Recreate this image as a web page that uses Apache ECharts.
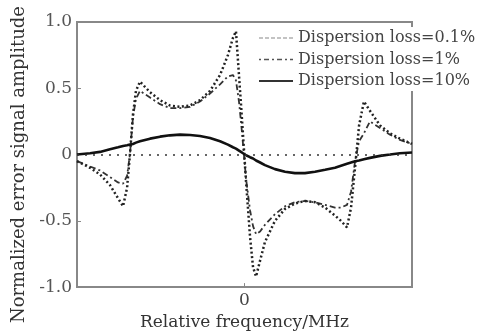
<!DOCTYPE html>
<html>
<head>
<meta charset="utf-8">
<script src="https://cdn.jsdelivr.net/npm/echarts@6/dist/echarts.min.js"></script>
<style>
html, body { margin: 0; padding: 0; background: #fff; }
#errorSignalChart { width: 487px; height: 336px; }
</style>
</head>
<body>
<div id="errorSignalChart"></div>
<script>
// relative frequency (arbitrary units, 0 at centre)
var freq = [-10, -9.22, -8.63, -8.03, -7.55, -7.25, -7.01, -6.84, -6.66, -6.48, -6.24, -5.64, -5.04, -4.45, -3.85, -3.25, -2.66, -2.06, -1.46, -0.99, -0.69, -0.51, -0.33, -0.21, -0.09, 0.09, 0.33, 0.51, 0.69, 0.93, 1.22, 1.82, 2.42, 3.01, 3.61, 4.21, 4.81, 5.40, 5.76, 6.12, 6.36, 6.60, 6.84, 7.13, 7.49, 8.09, 8.69, 9.28, 10];

var loss01 = [-0.05, -0.10, -0.15, -0.23, -0.33, -0.39, -0.25, 0.0, 0.30, 0.48, 0.55, 0.47, 0.41, 0.37, 0.36, 0.37, 0.41, 0.48, 0.60, 0.75, 0.88, 0.93, 0.60, 0.38, 0.15, -0.20, -0.62, -0.85, -0.92, -0.80, -0.66, -0.50, -0.41, -0.37, -0.35, -0.36, -0.40, -0.46, -0.50, -0.55, -0.40, -0.10, 0.22, 0.40, 0.33, 0.22, 0.16, 0.12, 0.08];

var loss1 = [-0.05, -0.09, -0.12, -0.17, -0.21, -0.22, -0.16, 0.0, 0.28, 0.42, 0.48, 0.43, 0.38, 0.35, 0.35, 0.36, 0.40, 0.46, 0.53, 0.59, 0.60, 0.56, 0.40, 0.25, 0.08, -0.18, -0.42, -0.54, -0.60, -0.58, -0.53, -0.45, -0.39, -0.36, -0.35, -0.36, -0.38, -0.40, -0.40, -0.38, -0.28, -0.05, 0.10, 0.16, 0.25, 0.20, 0.15, 0.11, 0.08];

var loss10 = [0.0, 0.01, 0.02, 0.04, 0.055, 0.065, 0.07, 0.075, 0.08, 0.09, 0.10, 0.12, 0.135, 0.145, 0.15, 0.148, 0.14, 0.125, 0.10, 0.075, 0.055, 0.045, 0.03, 0.02, 0.01, -0.005, -0.02, -0.03, -0.045, -0.06, -0.08, -0.11, -0.13, -0.14, -0.14, -0.13, -0.115, -0.10, -0.085, -0.07, -0.06, -0.05, -0.045, -0.035, -0.025, -0.01, 0.0, 0.01, 0.015];

var seriesNames = ["Dispersion loss=0.1%", "Dispersion loss=1%", "Dispersion loss=10%"];
var yTicks = [-1, -0.5, 0, 0.5, 1];

function pairs(vals) {
	var out = [];
	for (var i in freq) {
		out.push([freq[i], vals[i]]);
	}
	return out;
}

var serif = "DejaVu Serif";
var noSymbol = { color: "rgba(0,0,0,0)", borderColor: "rgba(0,0,0,0)", borderWidth: 0, opacity: 0 };
var chart = echarts.init(document.getElementById("errorSignalChart"));

var option = {
	animation: false,
	grid: {
		left: 77,
		right: 75,
		top: 22,
		bottom: 42,
		show: true,
		borderColor: "#888",
		borderWidth: 2
	},
	legend: {
		orient: "vertical",
		left: 254,
		top: 27,
		padding: [3, 10, 2, 4],
		backgroundColor: "#fff",
		itemWidth: 34,
		itemHeight: 16,
		itemGap: 5.5,
		textStyle: {
			fontFamily: serif,
			fontSize: 16,
			color: "#444"
		},
		data: [
			{ name: seriesNames[0], itemStyle: noSymbol, lineStyle: { type: [4, 2], width: 1.2, color: "#888" } },
			{ name: seriesNames[1], itemStyle: noSymbol, lineStyle: { type: [2, 3, 5, 3], width: 1.5, color: "#555" } },
			{ name: seriesNames[2], itemStyle: noSymbol, lineStyle: { type: "solid", width: 2, color: "#333" } }
		]
	},
	xAxis: {
		type: "value",
		min: -10,
		max: 10,
		interval: 10,
		name: "Relative frequency/MHz",
		nameLocation: "middle",
		nameGap: 21,
		nameTextStyle: {
			fontFamily: serif,
			fontSize: 17,
			color: "#333"
		},
		splitLine: { show: false },
		axisLine: { onZero: false, lineStyle: { color: "#888", width: 2 } },
		axisTick: { show: true, inside: true, length: 4, lineStyle: { color: "#888" } },
		axisLabel: {
			margin: 5,
			fontFamily: serif,
			fontSize: 17,
			color: "#444",
			formatter: function(v) {
				return v === 0 ? "0" : "";
			}
		}
	},
	yAxis: {
		type: "value",
		min: yTicks[0],
		max: yTicks[yTicks.length - 1],
		interval: 0.5,
		name: "Normalized error signal amplitude",
		nameLocation: "middle",
		nameGap: 47,
		nameTextStyle: {
			fontFamily: serif,
			fontSize: 18,
			color: "#333",
			padding: [0, 20, 0, 0]
		},
		splitLine: { show: false },
		axisLine: { onZero: false, lineStyle: { color: "#888", width: 2 } },
		axisTick: { show: true, inside: true, length: 4, lineStyle: { color: "#888" } },
		axisLabel: {
			margin: 5,
			fontFamily: serif,
			fontSize: 17,
			color: "#555",
			formatter: function(v) {
				return v === 0 ? "0" : v.toFixed(1);
			}
		}
	},
	series: [{
		name: seriesNames[0],
		type: "line",
		symbol: "none",
		color: "#222",
		data: pairs(loss01),
		lineStyle: { color: "#222", width: 2.5, type: [2, 2.5] },
		z: 3
	}, {
		name: seriesNames[1],
		type: "line",
		symbol: "none",
		color: "#333",
		data: pairs(loss1),
		lineStyle: { color: "#333", width: 1.8, type: [6, 3, 2, 3] },
		z: 2
	}, {
		name: seriesNames[2],
		type: "line",
		symbol: "none",
		color: "#111",
		data: pairs(loss10),
		lineStyle: { color: "#111", width: 2.6, type: "solid" },
		z: 4,
		markLine: {
			silent: true,
			symbol: "none",
			label: { show: false },
			lineStyle: { color: "#333", width: 1.5, type: [2, 6] },
			data: [{ yAxis: 0 }]
		}
	}]
};

chart.setOption(option);
</script>
</body>
</html>
